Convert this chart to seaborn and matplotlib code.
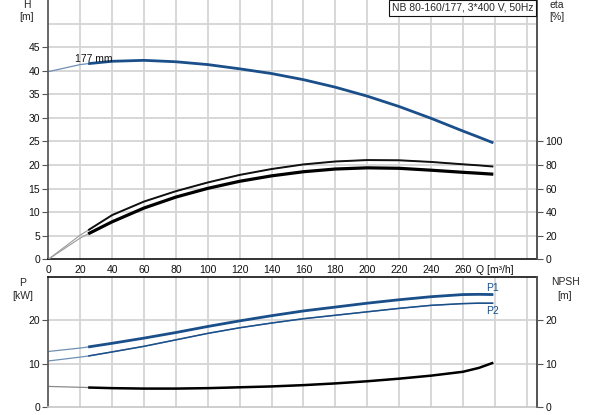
import numpy as np
import pandas as pd
import matplotlib
matplotlib.use("Agg")
import matplotlib.pyplot as plt
import seaborn as sns

# ---- data ----
q = [0, 20, 25, 40, 60, 80, 100, 120, 140, 160, 180, 200, 220, 240, 260, 270, 279]
head = [39.8, 41.3, 41.5, 42.0, 42.2, 41.9, 41.3, 40.4, 39.4, 38.1, 36.5, 34.6, 32.4, 29.9, 27.2, 25.9, 24.7]
eta_pump = [0, 20.5, 24.7, 37.5, 49.0, 57.8, 65.2, 71.6, 76.6, 80.5, 83.0, 84.2, 84.0, 82.6, 80.6, 79.7, 78.7]
eta_total = [0, 18.0, 21.6, 31.8, 43.5, 52.8, 60.2, 66.2, 70.8, 74.3, 76.6, 77.6, 77.2, 75.6, 73.8, 73.0, 72.2]
p1 = [12.8, 13.6, 13.85, 14.7, 15.9, 17.2, 18.6, 19.9, 21.1, 22.2, 23.1, 24.0, 24.8, 25.5, 26.0, 26.05, 26.0]
p2 = [10.6, 11.5, 11.75, 12.7, 14.0, 15.5, 17.0, 18.3, 19.4, 20.4, 21.2, 22.0, 22.8, 23.5, 23.9, 24.0, 24.0]
npsh = [4.7, 4.5, 4.45, 4.3, 4.2, 4.2, 4.3, 4.5, 4.7, 5.0, 5.4, 5.9, 6.5, 7.2, 8.1, 9.0, 10.2]

x_ticks = list(range(0, 301, 20))
x_labels = [str(v) for v in range(0, 261, 20)] + ["Q [m³/h]", ""]
h_ticks = list(range(0, 46, 5))
eta_ticks = list(range(0, 101, 20))
p_ticks = [0, 10, 20]
title = "NB 80-160/177, 3*400 V, 50Hz"

df = pd.DataFrame({"Q": q, "H": head, "eta_p": eta_pump, "eta_t": eta_total,
                   "P1": p1, "P2": p2, "NPSH": npsh})
full = df
thick = df[df["Q"] >= 25]

sns.set_theme(style="white")
plt.rcParams["font.family"] = ["Liberation Sans", "DejaVu Sans"]
plt.rcParams["font.size"] = 7.5
plt.rcParams["lines.solid_joinstyle"] = "round"
plt.rcParams["lines.solid_capstyle"] = "butt"

BLUE = "#1a4f8a"
GRID = "#d4d4d4"
SPINE = "#555555"

fig = plt.figure(figsize=(5.93, 4.15), dpi=100)
ax = fig.add_axes([48.3 / 593, 1 - 259.3 / 415, 488.7 / 593, 259.3 / 415])
ax2 = fig.add_axes([48.3 / 593, 1 - 406.7 / 415, 488.7 / 593, 129.4 / 415])

# ---- top panel: head + efficiency ----
ax.set_xlim(0, 306.4)
ax.set_ylim(0, 55)
for v in x_ticks[1:]:
    ax.axvline(v, color=GRID, lw=1.3, zorder=0)
for v in range(5, 55, 5):
    ax.axhline(v, color=GRID, lw=1.3, zorder=0)
sns.lineplot(data=full, x="Q", y="H", ax=ax, color="#6f8fb5", lw=0.9, estimator=None, sort=False)
sns.lineplot(data=thick, x="Q", y="H", ax=ax, color=BLUE, lw=2.0, estimator=None, sort=False)
ax.text(17, 42.5, "177 mm", ha="left", va="center", fontsize=7.5, color="#111111")
ax.set_xticks(x_ticks)
ax.set_xticklabels(x_labels)
ax.set_yticks(h_ticks)
ax.set_xlabel("")
ax.set_ylabel("")
ax.tick_params(axis="x", length=0, pad=4, labelsize=7.5, colors="#111111")
ax.tick_params(axis="y", length=4, width=0.8, color=SPINE, pad=2, labelsize=7.5, labelcolor="#111111", left=True)
ax.spines["top"].set_visible(False)
ax.spines["left"].set_color(SPINE)
ax.spines["right"].set_color(SPINE)
ax.spines["bottom"].set_color("#111111")
ax.spines["bottom"].set_linewidth(1.2)

axe = ax.twinx()
axe.set_ylim(0, 220)
sns.lineplot(data=full, x="Q", y="eta_p", ax=axe, color="#9a9a9a", lw=0.8, estimator=None, sort=False)
sns.lineplot(data=full, x="Q", y="eta_t", ax=axe, color="#9a9a9a", lw=0.8, estimator=None, sort=False)
sns.lineplot(data=thick, x="Q", y="eta_p", ax=axe, color="#111111", lw=1.4, estimator=None, sort=False)
sns.lineplot(data=thick, x="Q", y="eta_t", ax=axe, color="#000000", lw=2.3, estimator=None, sort=False)
axe.set_yticks(eta_ticks)
axe.set_ylabel("")
axe.tick_params(axis="y", length=4, width=0.8, color=SPINE, pad=2, labelsize=7.5, labelcolor="#111111", right=True)
axe.spines["top"].set_visible(False)
axe.spines["right"].set_color(SPINE)
axe.spines["left"].set_visible(False)
axe.spines["bottom"].set_visible(False)

# ---- bottom panel: power + NPSH ----
ax2.set_xlim(0, 306.4)
ax2.set_ylim(0, 30)
for v in x_ticks[1:]:
    ax2.axvline(v, color=GRID, lw=1.3, zorder=0)
for v in [10, 20]:
    ax2.axhline(v, color=GRID, lw=1.3, zorder=0)
sns.lineplot(data=full, x="Q", y="P1", ax=ax2, color="#6f8fb5", lw=0.9, estimator=None, sort=False)
sns.lineplot(data=full, x="Q", y="P2", ax=ax2, color="#6f8fb5", lw=0.9, estimator=None, sort=False)
sns.lineplot(data=full, x="Q", y="NPSH", ax=ax2, color="#8a8a8a", lw=0.9, estimator=None, sort=False)
sns.lineplot(data=thick, x="Q", y="P1", ax=ax2, color=BLUE, lw=2.0, estimator=None, sort=False)
sns.lineplot(data=thick, x="Q", y="P2", ax=ax2, color=BLUE, lw=1.1, estimator=None, sort=False)
sns.lineplot(data=thick, x="Q", y="NPSH", ax=ax2, color="#000000", lw=1.8, estimator=None, sort=False)
ax2.text(274.5, 27.6, "P1", ha="left", va="center", fontsize=7.5, color=BLUE)
ax2.text(274.5, 22.1, "P2", ha="left", va="center", fontsize=7.5, color=BLUE)
ax2.set_xticks(x_ticks)
ax2.set_xticklabels([])
ax2.set_yticks(p_ticks)
ax2.set_xlabel("")
ax2.set_ylabel("")
ax2.tick_params(axis="x", length=0)
ax2.tick_params(axis="y", length=4, width=0.8, color=SPINE, pad=2, labelsize=7.5, labelcolor="#111111", left=True)
ax2.spines["top"].set_color("#111111")
ax2.spines["top"].set_linewidth(1.2)
ax2.spines["left"].set_color(SPINE)
ax2.spines["right"].set_color(SPINE)
ax2.spines["bottom"].set_color("#c8c8c8")

axn = ax2.twinx()
axn.set_ylim(0, 30)
axn.set_yticks(p_ticks)
axn.tick_params(axis="y", length=4, width=0.8, color=SPINE, pad=2, labelsize=7.5, labelcolor="#111111", right=True)
for s in ["top", "left", "bottom"]:
    axn.spines[s].set_visible(False)
axn.spines["right"].set_color(SPINE)

# ---- axis captions and title box ----
fig.text(26.7 / 593, 1 - 5 / 415, "H", ha="center", va="center", fontsize=7.5)
fig.text(26.7 / 593, 1 - 17 / 415, "[m]", ha="center", va="center", fontsize=7.5)
fig.text(557 / 593, 1 - 5 / 415, "eta", ha="center", va="center", fontsize=7.5)
fig.text(557 / 593, 1 - 17 / 415, "[%]", ha="center", va="center", fontsize=7.5)
fig.text(23 / 593, 1 - 283 / 415, "P", ha="center", va="center", fontsize=7.5)
fig.text(23 / 593, 1 - 296 / 415, "[kW]", ha="center", va="center", fontsize=7.5)
fig.text(565 / 593, 1 - 282 / 415, "NPSH", ha="center", va="center", fontsize=7.5)
fig.text(565 / 593, 1 - 296 / 415, "[m]", ha="center", va="center", fontsize=7.5)
fig.text(533 / 593, 1 - 8 / 415, title, ha="right", va="center", fontsize=7.5,
         bbox=dict(boxstyle="square,pad=0.25", fc="white", ec="#111111", lw=0.8))

fig.savefig("out.png", dpi=100)
